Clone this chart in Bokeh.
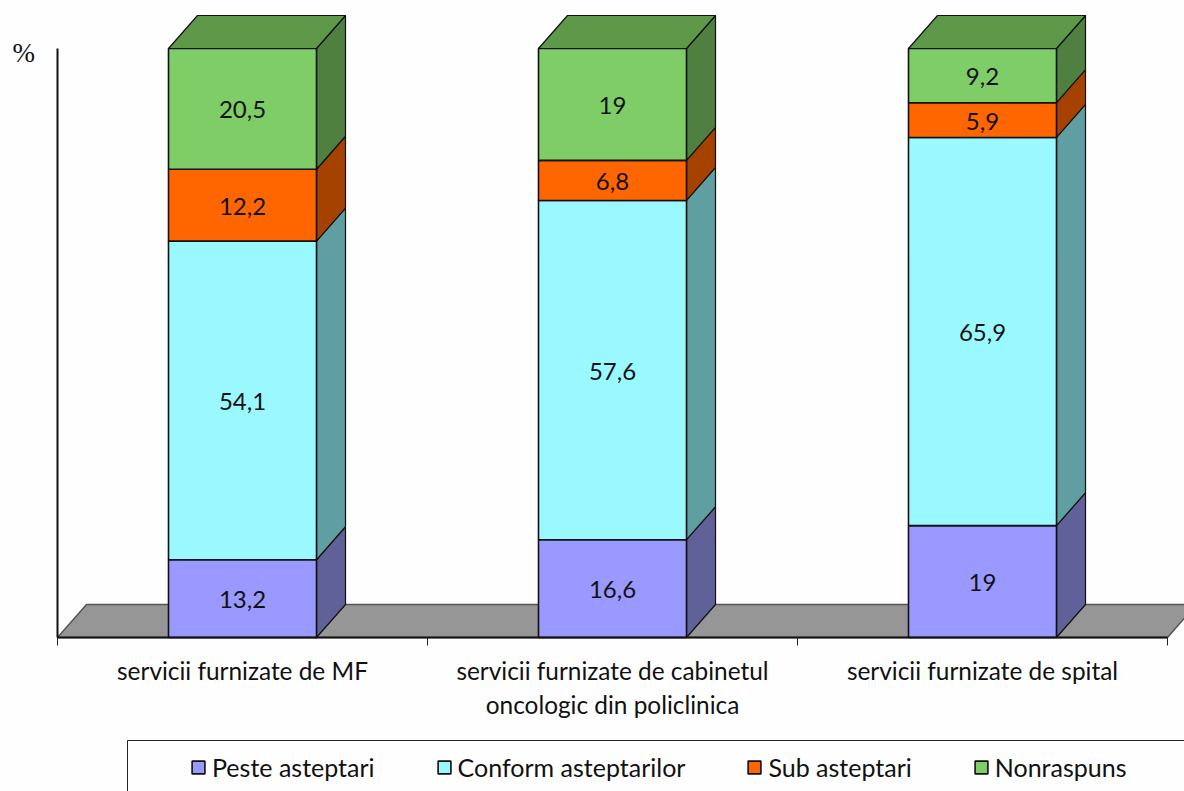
from bokeh.plotting import figure
from bokeh.models import (Range1d, LinearAxis, FixedTicker, Legend, LegendItem, Label, BoxAnnotation)
from bokeh.core.properties import value
from bokeh.embed import file_html
from bokeh.resources import INLINE

categories = ["servicii furnizate de MF",
              "servicii furnizate de cabinetul\noncologic din policlinica",
              "servicii furnizate de spital"]
series_names = ["Peste asteptari", "Conform asteptarilor", "Sub asteptari", "Nonraspuns"]
peste = [13.2, 16.6, 19]
conform = [54.1, 57.6, 65.9]
sub = [12.2, 6.8, 5.9]
nonraspuns = [20.5, 19, 9.2]
series = [peste, conform, sub, nonraspuns]

front_colors = ["#9999FF", "#99F9FF", "#FF6600", "#7FCD66"]
side_colors = ["#616199", "#5F9EA1", "#A64200", "#4F8040"]
top_color = "#5E994A"
centers = [0.5, 1.5, 2.5]
bar_w = 0.4
dx = 0.0784
dy = 5.6
FONT = "Lato"
EDGE = "#111111"

p = figure(width=1184, height=791, output_backend="svg", toolbar_location=None,
           x_range=Range1d(-57 / 370, 1127 / 370), y_range=Range1d(-154 / 5.89, 637 / 5.89),
           x_axis_type=None, y_axis_type=None,
           min_border_left=0, min_border_right=0, min_border_top=0, min_border_bottom=0)
p.grid.visible = False
p.outline_line_color = None
p.background_fill_color = "#FEFEFE"
p.border_fill_color = "#FEFEFE"

# floor
p.patch([0, 3, 3 + dx, dx], [0, 0, dy, dy], fill_color="#969696", line_color="#555555", line_width=1.5)

# bars
renderers = []
bottoms = [0.0, 0.0, 0.0]
for vals, fc, sc in zip(series, front_colors, side_colors):
    tops = [b + v for b, v in zip(bottoms, vals)]
    xs_side = [[c + bar_w / 2, c + bar_w / 2 + dx, c + bar_w / 2 + dx, c + bar_w / 2] for c in centers]
    ys_side = [[b, b + dy, t + dy, t] for b, t in zip(bottoms, tops)]
    p.patches(xs_side, ys_side, fill_color=sc, line_color=EDGE, line_width=1.2)
    r = p.vbar(x=centers, width=bar_w, bottom=bottoms, top=tops, fill_color=fc,
               line_color=EDGE, line_width=1.6)
    renderers.append(r)
    mids = [(b + t) / 2 for b, t in zip(bottoms, tops)]
    labels = [f"{v:g}".replace(".", ",") for v in vals]
    p.text(x=centers, y=mids, text=labels, text_align="center", text_baseline="middle",
           text_font=value(FONT), text_font_size="24px", text_color="#111111", y_offset=1)
    bottoms = tops

xs_top = [[c - bar_w / 2, c - bar_w / 2 + dx, c + bar_w / 2 + dx, c + bar_w / 2] for c in centers]
ys_top = [[t, t + dy, t + dy, t] for t in bottoms]
p.patches(xs_top, ys_top, fill_color=top_color, line_color=EDGE, line_width=1.2)

# axes (zero-size panels: drawn at their fixed location inside the full-page frame)
xaxis = LinearAxis(ticker=FixedTicker(ticks=centers, minor_ticks=[0, 1, 2, 3]), bounds=(0, 3),
                   fixed_location=0)
xaxis.major_label_overrides = {c: t for c, t in zip(centers, categories)}
xaxis.major_tick_line_color = None
xaxis.minor_tick_in = 0
xaxis.minor_tick_out = 8
xaxis.minor_tick_line_color = "#222222"
xaxis.axis_line_color = "#111111"
xaxis.axis_line_width = 2
xaxis.major_label_standoff = 10
xaxis.major_label_text_font = FONT
xaxis.major_label_text_font_size = "24.4px"
xaxis.major_label_text_color = "#111111"
p.add_layout(xaxis, "below")

yaxis = LinearAxis(ticker=FixedTicker(ticks=[]), bounds=(0, 100), fixed_location=0)
yaxis.axis_line_color = "#111111"
yaxis.axis_line_width = 2
yaxis.major_tick_line_color = None
yaxis.minor_tick_line_color = None
yaxis.major_label_text_font_size = "0px"
p.add_layout(yaxis, "left")

p.add_layout(Label(x=12, y=739, x_units="screen", y_units="screen", text="%",
                   text_font="Liberation Serif", text_font_size="27px", text_color="#111111",
                   text_baseline="middle"))

p.add_layout(BoxAnnotation(left=127, right=1300, top=51, bottom=-30,
                           left_units="screen", right_units="screen", top_units="screen", bottom_units="screen",
                           fill_alpha=0, line_color="#222222", line_alpha=1, line_width=1, level="underlay"))

legend = Legend(items=[LegendItem(label=value(n), renderers=[r]) for n, r in zip(series_names, renderers)],
                orientation="horizontal", location=(190, 9), padding=18, spacing=61,
                glyph_width=16, glyph_height=16, label_standoff=6, margin=0,
                label_text_font=FONT, label_text_font_size="25px", label_text_color="#111111",
                border_line_color=None, background_fill_alpha=0)
p.add_layout(legend, "center")

open("out.html", "w").write(file_html(p, INLINE))
